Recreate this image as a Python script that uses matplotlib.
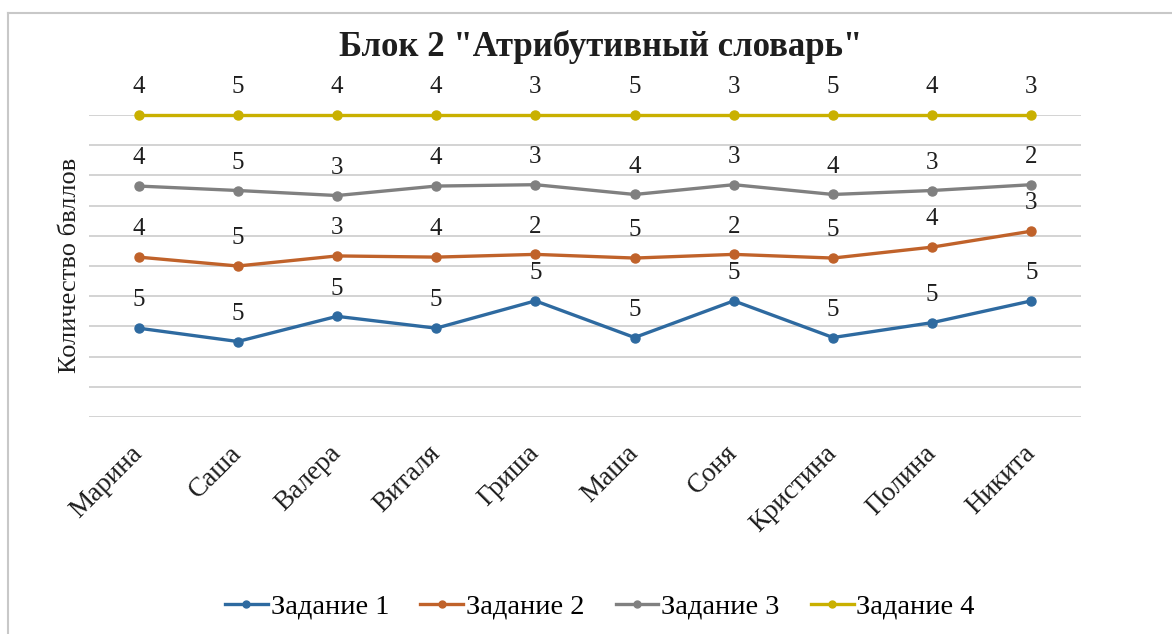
import matplotlib
matplotlib.use("Agg")
import matplotlib.pyplot as plt
import matplotlib.transforms as mtransforms
import numpy as np
from matplotlib.lines import Line2D

names = ["Марина", "Саша", "Валера", "Виталя", "Гриша", "Маша", "Соня", "Кристина", "Полина", "Никита"]
task1 = [5, 5, 5, 5, 5, 5, 5, 5, 5, 5]
task2 = [4, 5, 3, 4, 2, 5, 2, 5, 4, 3]
task3 = [4, 5, 3, 4, 3, 4, 3, 4, 3, 2]
task4 = [4, 5, 4, 4, 3, 5, 3, 5, 4, 3]
series_names = ["Задание 1", "Задание 2", "Задание 3", "Задание 4"]
colors = ["#2E6AA0", "#C0622A", "#808080", "#C9B000"]

plt.rcParams['font.family'] = ['Liberation Serif', 'DejaVu Serif']

fig = plt.figure(figsize=(11.72, 6.34), dpi=100)
ax = fig.add_axes([89/1172, 1-417/634, (1081-89)/1172, (417-115)/634])

data = np.array([task1, task2, task3, task4], dtype=float)
totals = data.sum(axis=0)
cum = np.cumsum(data, axis=0) / totals * 100.0
x = np.arange(len(names))

for i in range(4):
    ax.plot(x, cum[i], color=colors[i], lw=2.4, marker='o', ms=6.5, zorder=3,
            clip_on=False)
    for xi, yi, v in zip(x, cum[i], data[i]):
        ax.annotate(f"{int(v)}", (xi, yi), xytext=(0, 20), textcoords='offset points',
                    ha='center', va='center', fontsize=18, color='#1E1E1E',
                    annotation_clip=False)

ax.set_xlim(-0.5, len(names) - 0.5)
ax.set_ylim(0, 100)
ax.set_yticks(np.arange(0, 101, 10))
ax.yaxis.grid(True, color='#D0D0D0', lw=1.3)
ax.set_axisbelow(True)
ax.tick_params(axis='y', left=False, labelleft=False)
ax.tick_params(axis='x', length=0, pad=17)
ax.set_xticks(x)
ax.set_xticklabels(names, rotation=45, ha='right', rotation_mode='anchor', fontsize=19.5,
                   color='#1E1E1E')
offset = mtransforms.ScaledTranslation(-9/100, 0, fig.dpi_scale_trans)
for lab in ax.get_xticklabels():
    lab.set_transform(lab.get_transform() + offset)
for s in ax.spines.values():
    s.set_visible(False)

fig.text(70/1172, 1-265/634, "Количество бвллов", rotation=90, ha='center', va='center',
         fontsize=19, color='#1E1E1E')
fig.text(601/1172, 1-47/634, 'Блок 2 "Атрибутивный словарь"', ha='center', va='center',
         fontsize=25, fontweight='bold', color='#1E1E1E')

handles = [Line2D([0], [0], color=c, lw=2.4, marker='o', ms=5) for c in colors]
fig.legend(handles, series_names, loc='center', bbox_to_anchor=(600/1172, 1-607/634),
           ncol=4, frameon=False, fontsize=20.5, handlelength=1.5, handletextpad=0.1,
           columnspacing=1.1)

# outer border (top and left visible)
fig.add_artist(Line2D([8/1172, 8/1172], [0, 1-13/634], color='#C8C8C8', lw=1.5,
                      transform=fig.transFigure))
fig.add_artist(Line2D([8/1172, 1], [1-13/634, 1-13/634], color='#C8C8C8', lw=1.5,
                      transform=fig.transFigure))

fig.savefig("out.png", dpi=100)
